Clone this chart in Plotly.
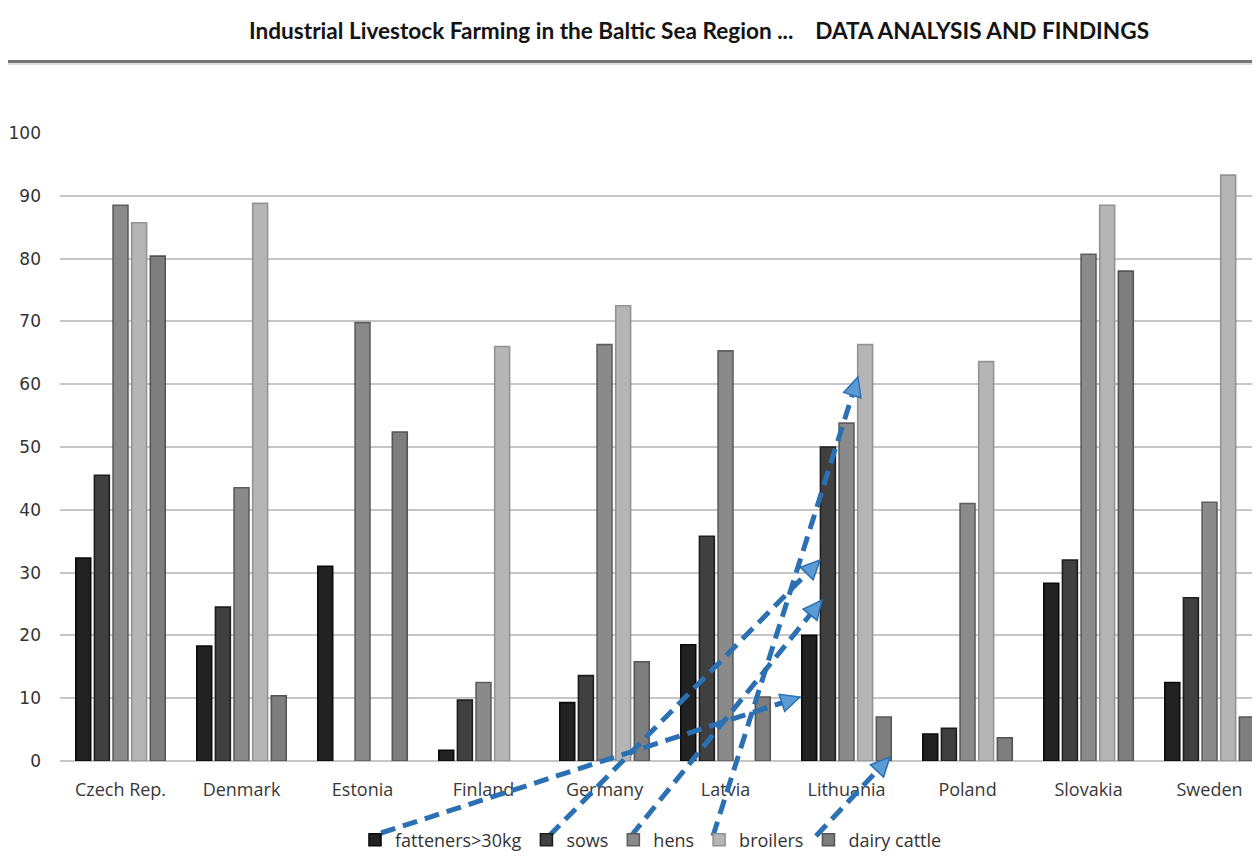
import math
import plotly.graph_objects as go

# ---------------- data ----------------
countries = ["Czech Rep.", "Denmark", "Estonia", "Finland", "Germany",
             "Latvia", "Lithuania", "Poland", "Slovakia", "Sweden"]
series_names = ["fatteners>30kg", "sows", "hens", "broilers", "dairy cattle"]
fatteners = [32.3, 18.3, 31.0, 1.7, 9.3, 18.5, 20.0, 4.3, 28.3, 12.5]
sows = [45.5, 24.5, None, 9.7, 13.6, 35.8, 50.0, 5.2, 32.0, 26.0]
hens = [88.5, 43.5, 69.8, 12.5, 66.3, 65.3, 53.8, 41.0, 80.7, 41.2]
broilers = [85.7, 88.8, None, 66.0, 72.5, None, 66.3, 63.6, 88.5, 93.3]
dairy_cattle = [80.4, 10.4, 52.4, None, 15.8, 10.2, 7.0, 3.7, 78.0, 7.0]
y_ticks = [0, 10, 20, 30, 40, 50, 60, 70, 80, 90, 100]

# ---------------- styles ----------------
fills = ["#222222", "#404040", "#8a8a8a", "#b5b5b5", "#7e7e7e"]
edges = ["#0a0a0a", "#1e1e1e", "#5e5e5e", "#939393", "#555555"]

# the page body has an 8px margin: the figure is drawn at (8, 8)
OFF = 8
WIN_W, WIN_H = 1260, 859
W, H = WIN_W - OFF, WIN_H - OFF
# plot area in window pixels
X0, X1, Y0, Y1 = 60, 1260, 133, 761


def px(x):
    return (x - X0) / (X1 - X0)


def py(y):
    return (Y1 - y) / (Y1 - Y0)


fig = go.Figure()
for name, vals, fc, ec in zip(series_names,
                              [fatteners, sows, hens, broilers, dairy_cattle],
                              fills, edges):
    fig.add_trace(go.Bar(
        x=countries, y=vals, name=name,
        marker=dict(color=fc, line=dict(color=ec, width=1.6)),
    ))

shapes = []
annotations = []

# header rule
shapes.append(dict(type="line", xref="paper", yref="paper",
                   x0=px(5), x1=px(1262), y0=py(61.5), y1=py(61.5),
                   line=dict(color="#767676", width=3)))
shapes.append(dict(type="line", xref="paper", yref="paper",
                   x0=px(5), x1=px(1262), y0=py(64), y1=py(64),
                   line=dict(color="#d4d4d4", width=1.5)))

annotations.append(dict(
    xref="paper", yref="paper", x=px(699), y=py(30),
    xanchor="center", yanchor="middle", showarrow=False,
    text="<b>Industrial Livestock Farming in the Baltic Sea Region ...\u00a0\u00a0\u00a0 DATA ANALYSIS AND FINDINGS</b>",
    font=dict(family="Lato", size=22.6, color="#141414"),
))

# blue dashed pointer arrows (window pixels: legend marker -> bar)
ARROWS = [
    ((381, 833), (800, 697)),
    ((549, 836), (820, 560)),
    ((631, 836), (822, 600)),
    ((713, 836), (858, 377)),
    ((816, 836), (890, 757)),
]
for (sx, sy), (ex, ey) in ARROWS:
    dx, dy = ex - sx, ey - sy
    L = math.hypot(dx, dy)
    ux, uy = dx / L, dy / L
    head_len, head_w = 19, 9
    bx, by = ex - ux * head_len, ey - uy * head_len
    shapes.append(dict(type="line", xref="paper", yref="paper",
                       x0=px(sx), y0=py(sy), x1=px(bx + ux * 2), y1=py(by + uy * 2),
                       line=dict(color="#2b70b3", width=5, dash="15px,8px")))
    nx, ny = -uy, ux
    p1 = (bx + nx * head_w, by + ny * head_w)
    p2 = (bx - nx * head_w, by - ny * head_w)
    path = "M {} {} L {} {} L {} {} Z".format(
        px(ex), py(ey), px(p1[0]), py(p1[1]), px(p2[0]), py(p2[1]))
    shapes.append(dict(type="path", xref="paper", yref="paper", path=path,
                       fillcolor="#5b9bd5", line=dict(color="#2b70b3", width=1.5)))

fig.update_layout(
    width=W, height=H,
    margin=dict(l=X0 - OFF, r=WIN_W - X1, t=Y0 - OFF, b=WIN_H - Y1, pad=0),
    paper_bgcolor="white", plot_bgcolor="white",
    barmode="group", bargap=0.23, bargroupgap=0.2,
    shapes=shapes, annotations=annotations,
    showlegend=True,
    legend=dict(orientation="h", x=px(651), y=py(840), xanchor="center",
                yanchor="middle", font=dict(family="Open Sans", size=18, color="#333333"),
                itemwidth=30, tracegroupgap=0, bgcolor="rgba(0,0,0,0)"),
    font=dict(family="Open Sans", color="#404040"),
)
fig.update_xaxes(type="category", range=[-0.5, 9.417], showgrid=False,
                 showline=False, ticks="", ticklabelstandoff=16,
                 tickfont=dict(family="Open Sans", size=18, color="#383838"))
fig.update_yaxes(range=[0, 100], tickvals=y_ticks, showgrid=True,
                 gridcolor="#c6c6c6", gridwidth=2, zeroline=True,
                 zerolinecolor="#c6c6c6", zerolinewidth=2, showline=False,
                 ticks="", ticklabelstandoff=18,
                 tickfont=dict(family="DejaVu Sans", size=17, color="#333333"))

fig.write_html("out.html")
